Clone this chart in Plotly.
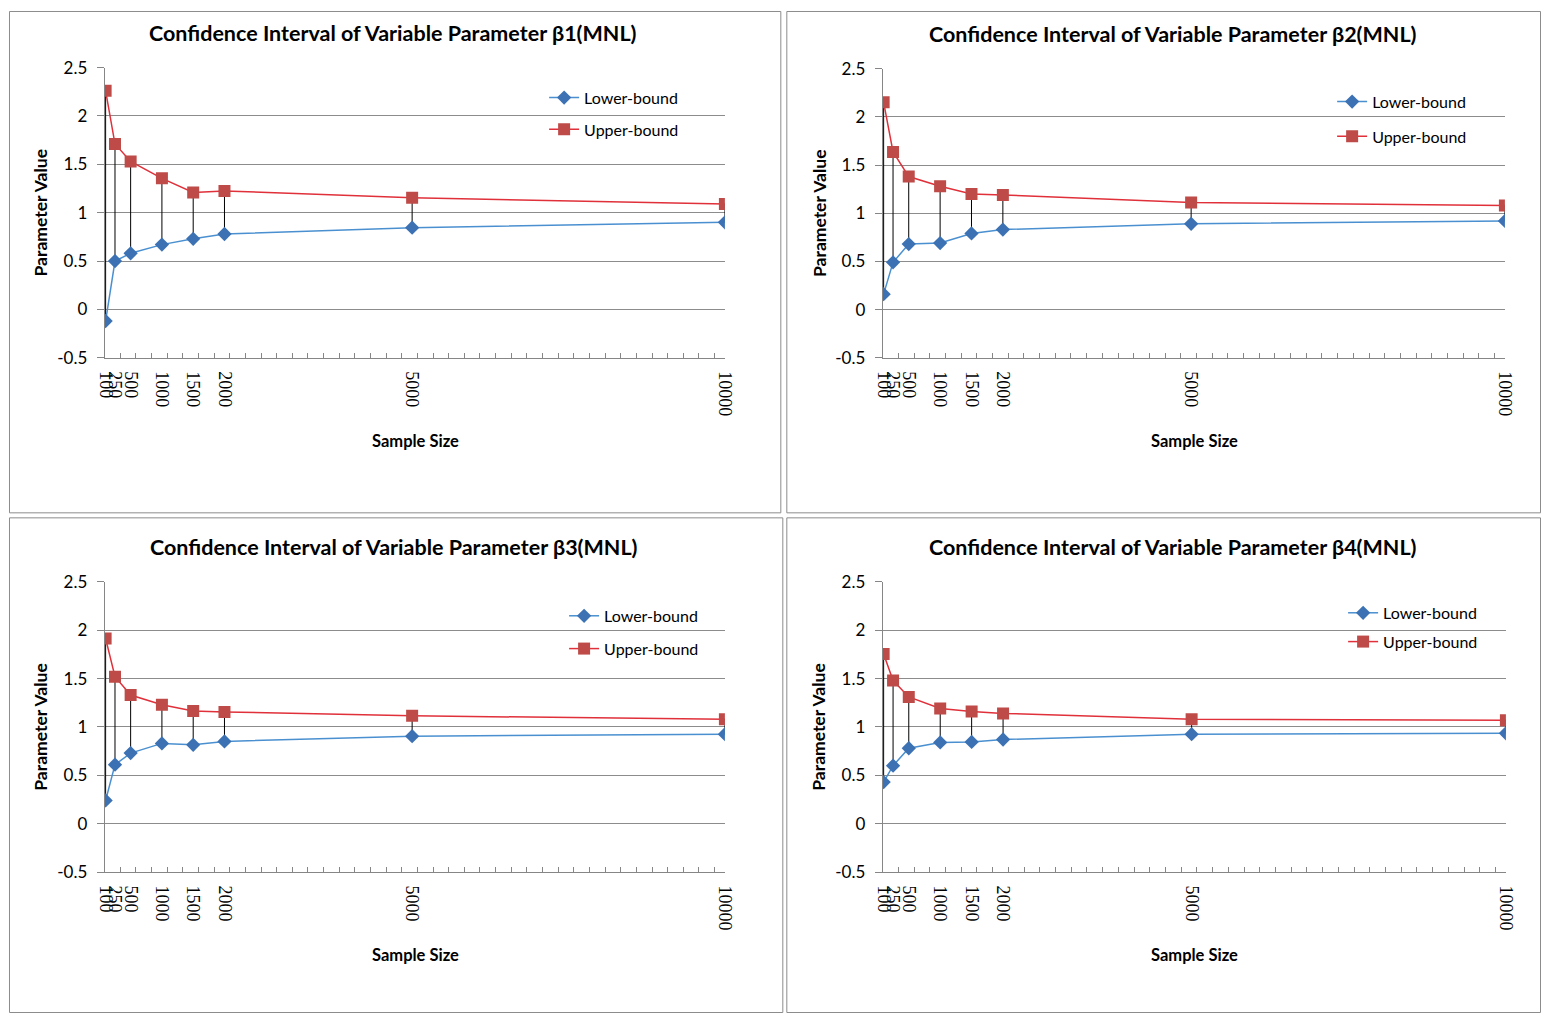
import plotly.graph_objects as go

sample_sizes = [100, 250, 500, 1000, 1500, 2000, 5000, 10000]
tick_labels = ["100", "250", "500", "1000", "1500", "2000", "5000", "10000"]

b1_lower = [-0.12, 0.50, 0.58, 0.67, 0.73, 0.78, 0.845, 0.90]
b1_upper = [2.26, 1.71, 1.53, 1.355, 1.21, 1.225, 1.155, 1.09]
b2_lower = [0.16, 0.49, 0.68, 0.69, 0.79, 0.83, 0.89, 0.92]
b2_upper = [2.15, 1.635, 1.38, 1.28, 1.20, 1.19, 1.11, 1.08]
b3_lower = [0.24, 0.61, 0.73, 0.83, 0.815, 0.85, 0.905, 0.925]
b3_upper = [1.915, 1.52, 1.33, 1.23, 1.165, 1.155, 1.115, 1.08]
b4_lower = [0.43, 0.60, 0.78, 0.84, 0.845, 0.87, 0.925, 0.935]
b4_upper = [1.755, 1.48, 1.31, 1.19, 1.16, 1.14, 1.08, 1.07]

titles = ["Confidence Interval of Variable Parameter β1(MNL)",
          "Confidence Interval of Variable Parameter β2(MNL)",
          "Confidence Interval of Variable Parameter β3(MNL)",
          "Confidence Interval of Variable Parameter β4(MNL)"]

W, H = 1551, 1023
# compensation for the observed page-to-photo mapping
SX, OX = 0.989, 8.2
SY, OY = 0.979, 10.4

def clamp(v, lo, hi):
    return max(lo, min(hi, v))

def px(xt):
    x = clamp((xt - OX) / SX, 0.5, W - 0.5)
    return x / W

def py(yt):
    y = clamp((yt - OY) / SY, 0.5, H - 0.5)
    return 1 - y / H

# target pixel boxes: (left, right, top, bottom)
boxes = [(104, 725, 67, 357), (883, 1506, 68, 357), (104, 725, 581, 871), (883, 1507, 581, 871)]
frames = [(7, 781, 5, 512), (787, 1550, 5, 512), (7, 783, 517, 1022), (787, 1550, 517, 1022)]
legend_pos = [(544, 80), (1333, 84), (564, 598), (1344, 595)]
title_pos = [(393, 32), (1174, 33), (394, 546), (1174, 546)]
legend_gaps = [8, 11, 9, 5]

data = [(b1_lower, b1_upper), (b2_lower, b2_upper), (b3_lower, b3_upper), (b4_lower, b4_upper)]

BLUE_LINE = "#4A90D0"
BLUE_MK = "#3C72B4"
RED_LINE = "#E0303A"
RED_MK = "#BE4B48"

fig = go.Figure()
annotations = []
shapes = []

for i, (lo, up) in enumerate(data):
    k = "" if i == 0 else str(i + 1)
    xa, ya = "x" + k, "y" + k
    leg = "legend" + k
    # high-low lines
    hx, hy = [], []
    for s, l, u in zip(sample_sizes, lo, up):
        hx += [s, s, None]
        hy += [l, u, None]
    fig.add_trace(go.Scatter(x=hx, y=hy, mode="lines", line=dict(color="black", width=1),
                             xaxis=xa, yaxis=ya, showlegend=False, hoverinfo="skip"))
    fig.add_trace(go.Scatter(x=sample_sizes, y=lo, mode="lines+markers", name="Lower-bound",
                             line=dict(color=BLUE_LINE, width=1.5),
                             marker=dict(symbol="diamond", size=11, color=BLUE_MK),
                             xaxis=xa, yaxis=ya, legend=leg, legendgroup="lo" + k))
    fig.add_trace(go.Scatter(x=sample_sizes, y=up, mode="lines+markers", name="Upper-bound",
                             line=dict(color=RED_LINE, width=1.5),
                             marker=dict(symbol="square", size=12, color=RED_MK),
                             xaxis=xa, yaxis=ya, legend=leg, legendgroup="up" + k))

    L, R, T, B = boxes[i]
    axis_x = dict(domain=[px(L), px(R)], range=[85, 10000], anchor=ya,
                  tickmode="array", tickvals=sample_sizes, ticktext=tick_labels,
                  tickangle=90, ticks="", showgrid=False, zeroline=False,
                  showline=True, linecolor="#868686", linewidth=1,
                  ticklabelstandoff=9,
                  tickfont=dict(family="Liberation Serif", size=18, color="black"),
                  minor=dict(tickmode="linear", tick0=85, dtick=250, ticks="inside",
                             ticklen=5, tickcolor="#868686", showgrid=False))
    axis_y = dict(domain=[py(B), py(T)], range=[-0.5, 2.5], anchor=xa,
                  tickmode="array", tickvals=[-0.5, 0, 0.5, 1, 1.5, 2, 2.5],
                  ticktext=["-0.5", "0", "0.5", "1", "1.5", "2", "2.5"],
                  ticks="outside", ticklen=7, tickcolor="#868686",
                  ticklabelstandoff=6,
                  showgrid=True, gridcolor="#8C8C8C", gridwidth=1, zeroline=False,
                  showline=True, linecolor="#868686", linewidth=1,
                  tickfont=dict(family="Lato", size=17, color="black"))
    fig.update_layout(**{"xaxis" + k: axis_x, "yaxis" + k: axis_y})

    lx, ly = legend_pos[i]
    fig.update_layout(**{leg: dict(x=px(lx), y=py(ly), xanchor="left", yanchor="top",
                                   bgcolor="rgba(255,255,255,0)", borderwidth=0,
                                   font=dict(family="Lato", size=16, color="black"),
                                   tracegroupgap=legend_gaps[i], itemwidth=30)})

    tx, ty = title_pos[i]
    annotations.append(dict(text="<b>" + titles[i] + "</b>", x=px(tx), y=py(ty),
                            xref="paper", yref="paper", showarrow=False,
                            xanchor="center", yanchor="middle",
                            font=dict(family="Lato", size=21.5, color="black")))
    annotations.append(dict(text="<b>Sample Size</b>", x=px((L + R) / 2 + 0.5), y=py(B + 83),
                            xref="paper", yref="paper", showarrow=False,
                            xanchor="center", yanchor="middle",
                            font=dict(family="Lato", size=16.5, color="black")))
    annotations.append(dict(text="<b>Parameter Value</b>", x=px(L - 64), y=py((T + B) / 2),
                            xref="paper", yref="paper", showarrow=False, textangle=-90,
                            xanchor="center", yanchor="middle",
                            font=dict(family="Lato", size=17.5, color="black")))
    fL, fR, fT, fB = frames[i]
    shapes.append(dict(type="rect", xref="paper", yref="paper",
                       x0=px(fL), x1=px(fR), y0=py(fB), y1=py(fT),
                       line=dict(color="#8C8C8C", width=1), fillcolor="rgba(0,0,0,0)", layer="below"))

fig.update_layout(width=W, height=H, margin=dict(l=0, r=0, t=0, b=0),
                  paper_bgcolor="white", plot_bgcolor="white",
                  annotations=annotations, shapes=shapes, showlegend=True)

fig.write_html("out.html", config={"displayModeBar": False},
               post_script="document.body.style.margin='0';document.body.style.overflow='hidden';")
